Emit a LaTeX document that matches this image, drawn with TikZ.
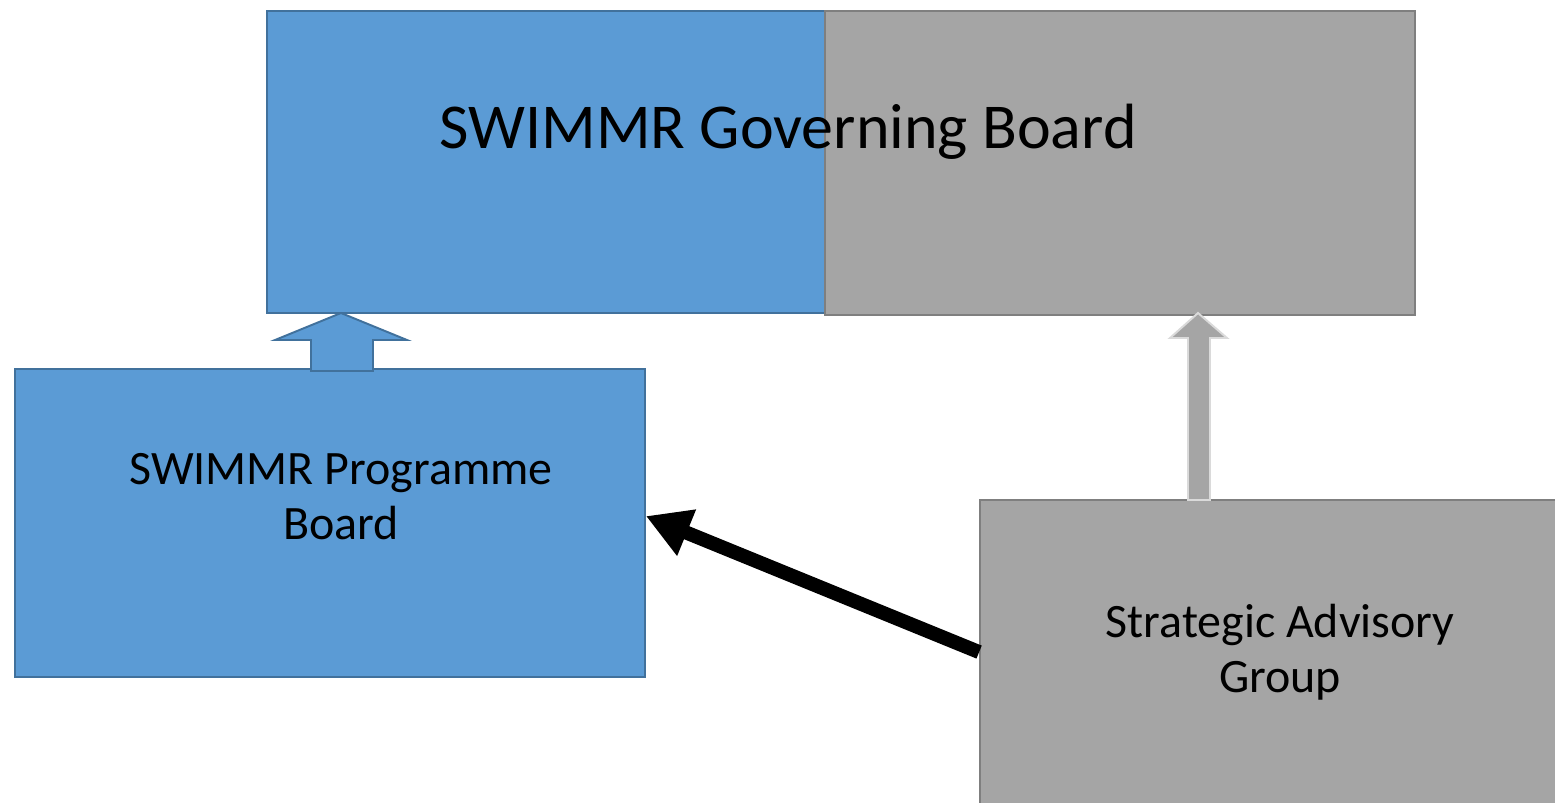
\documentclass[tikz,border=0pt]{standalone}
\usepackage{fontspec}
\setmainfont{Carlito}
\usepackage{tikz}
\usetikzlibrary{positioning,calc,arrows.meta}
\definecolor{boardblue}{HTML}{5B9BD5}
\definecolor{boardblueline}{HTML}{41719C}
\definecolor{boardgrey}{HTML}{A5A5A5}
\definecolor{boardgreyline}{HTML}{7F7F7F}
\definecolor{arrowrim}{HTML}{DADADA}
\pgfkeys{tikz/bluebox/.style={draw=boardblueline,fill=boardblue,line width=1.1pt,inner sep=0pt}}
\pgfkeys{tikz/greybox/.style={draw=boardgreyline,fill=boardgrey,line width=1.1pt,inner sep=0pt}}
\pgfkeys{tikz/boxtext/.style={align=center,font=\fontsize{27.3}{30.8}\selectfont,inner sep=0pt}}

\begin{document}
\begin{tikzpicture}[x=0.02cm,y=-0.02cm]
  \path[use as bounding box] (0,0) rectangle (1555,802);
  \clip (0,0) rectangle (1555,802);

  \node[bluebox,minimum width=11.16cm,minimum height=6.04cm] (gb) at (546,162) {};
  \node[greybox,minimum width=11.8cm,minimum height=6.08cm] (gg) at (1120,163) {};
  \node[bluebox,minimum width=12.6cm,minimum height=6.16cm] (pb) at (330,523) {};
  \node[greybox,minimum width=12cm,minimum height=6.4cm] (sag) at (1280,660) {};

  % block arrows
  \draw[draw=boardblueline,fill=boardblue,line width=1.1pt] (341,313) -- (407,340) -- (373,340) -- (373,371) -- (311,371) -- (311,340) -- (275,340) -- cycle;
  \draw[draw=arrowrim,fill=boardgrey,line width=1.1pt] (1198,313) -- (1227,338) -- (1210,338) -- (1210,500) -- (1188,500) -- (1188,338) -- (1170,338) -- cycle;

  \node[anchor=base,font=\fontsize{36.4}{42}\selectfont,inner sep=0pt] (gbtext) at (788,148) {SWIMMR Governing Board};
  \node[boxtext,anchor=base] (pbtext) at (341,539) {SWIMMR Programme\\Board};
  \node[boxtext,anchor=base] (sagtext) at (1280,692) {Strategic Advisory\\Group};

  \draw[line width=0.28cm,-{Triangle[length=0.88cm,width=0.94cm]}] ($(sag.north west)+(0,153)$) -- ($(pb.north east)+(0,148)$);
\end{tikzpicture}
\end{document}
